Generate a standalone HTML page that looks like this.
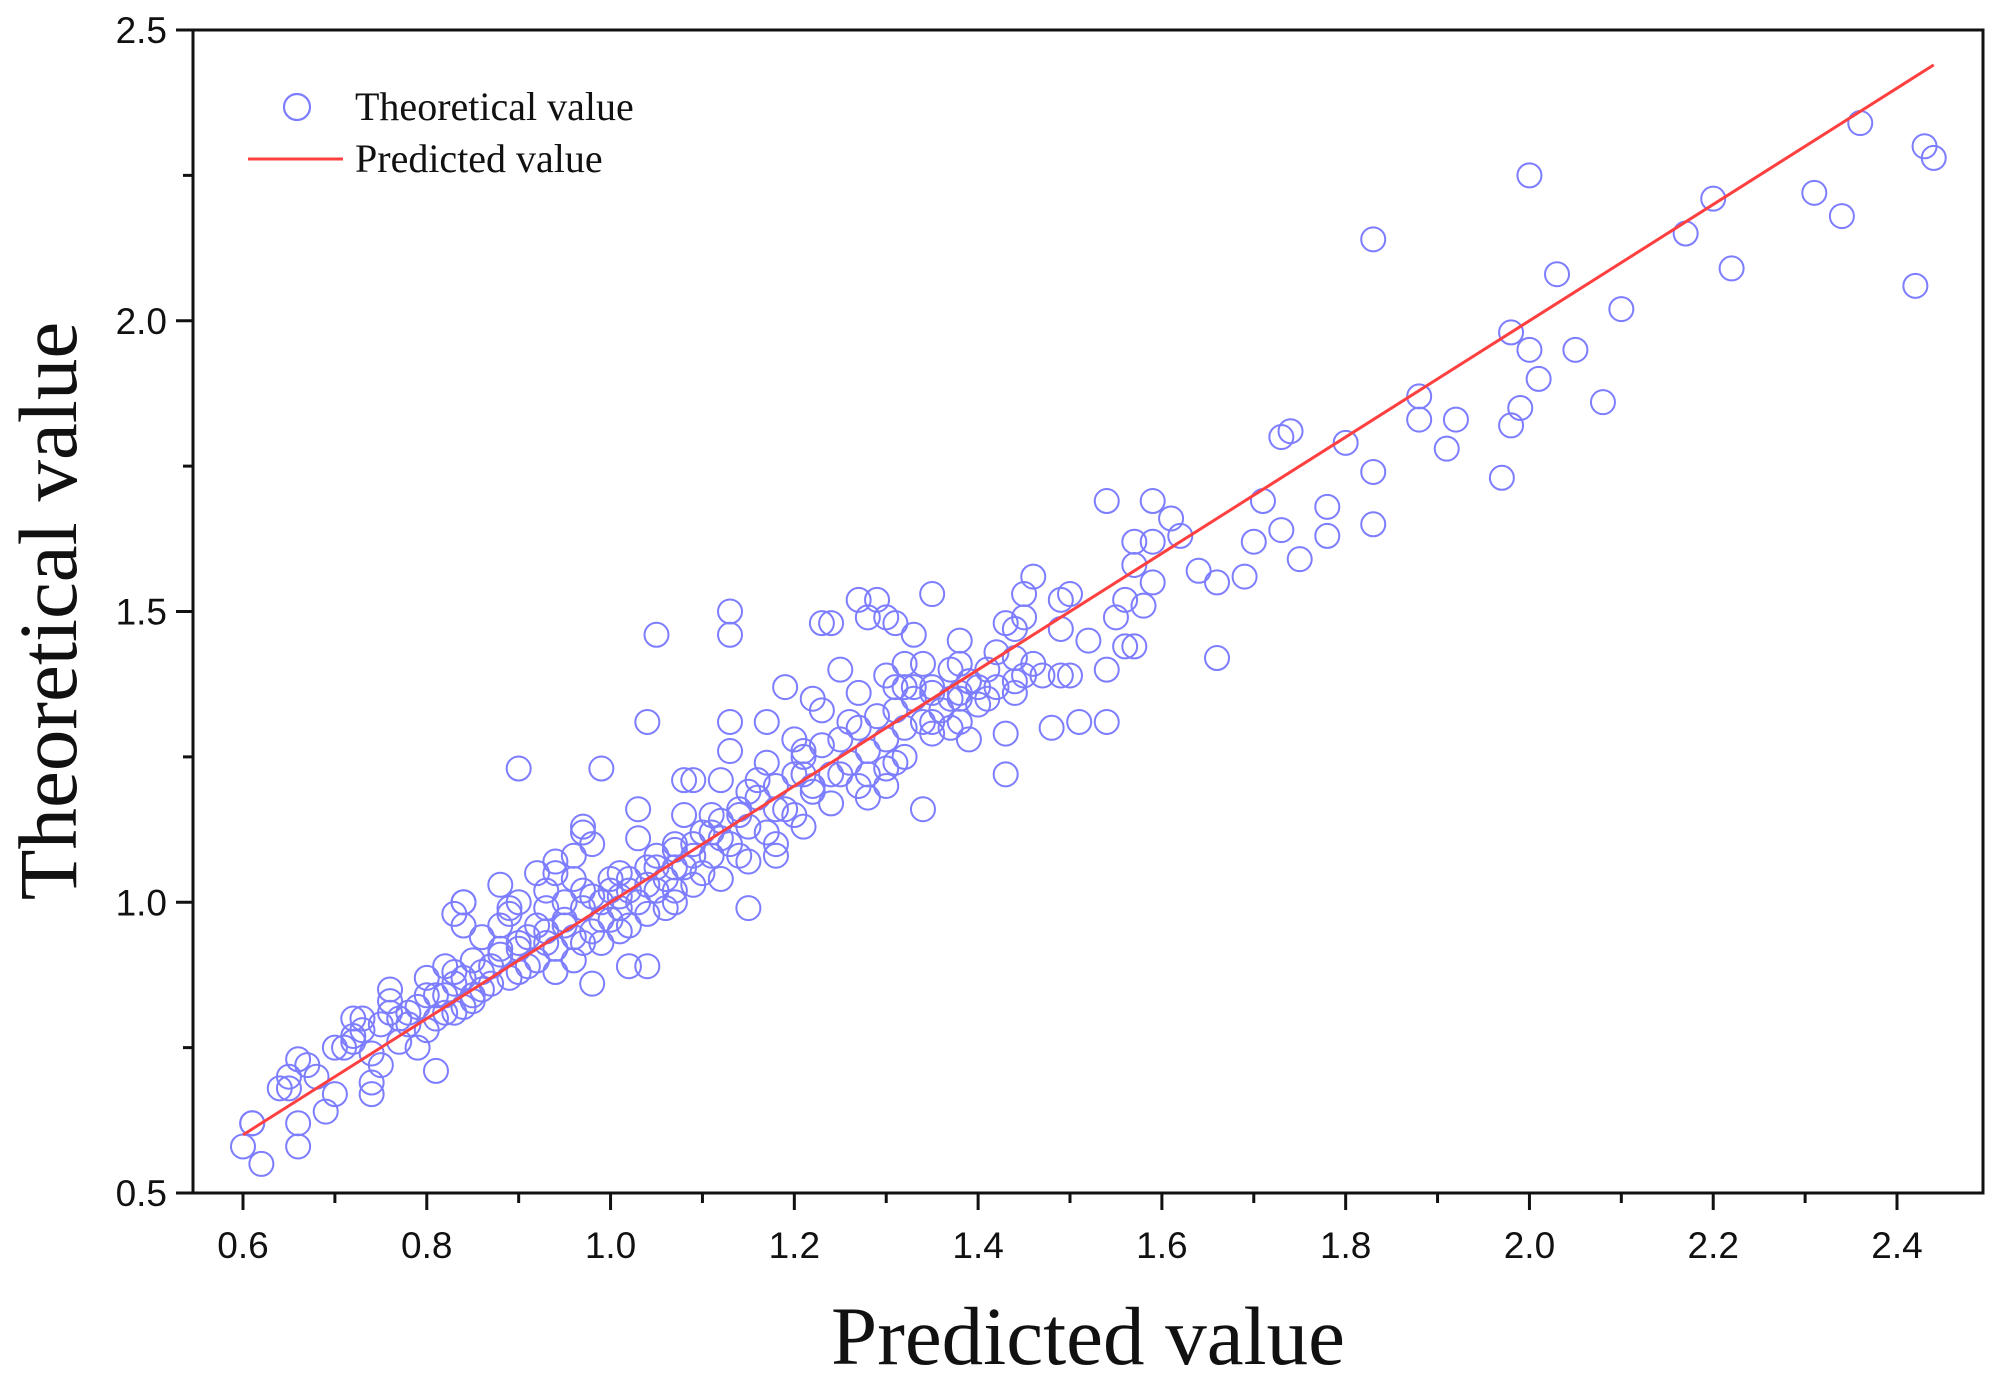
<!DOCTYPE html>
<html><head><meta charset="utf-8"><style>
html,body{margin:0;padding:0;background:#fff;}
svg{display:block;}
</style></head><body>
<svg id="chart" width="1996" height="1383" viewBox="0 0 1996 1383" xmlns="http://www.w3.org/2000/svg">
<g id="marks"></g>
<g id="axes"></g>
<g>
<circle cx="297" cy="107" r="13" fill="none" stroke="#7d7dff" stroke-width="2.2"/>
<text x="355" y="120" font-family="Liberation Serif, serif" font-size="40" fill="#111">Theoretical value</text>
<line x1="248" y1="159" x2="343" y2="159" stroke="#ff4040" stroke-width="3"/>
<text x="355" y="172" font-family="Liberation Serif, serif" font-size="40" fill="#111">Predicted value</text>
</g>
<text x="1088" y="1364" text-anchor="middle" font-family="Liberation Serif, serif" font-size="83" fill="#111">Predicted value</text>
<text transform="translate(76,611) rotate(-90)" text-anchor="middle" font-family="Liberation Serif, serif" font-size="83" fill="#111">Theoretical value</text>
</svg>
<script>
const xTicks=[0.6,0.8,1.0,1.2,1.4,1.6,1.8,2.0,2.2,2.4];
const xTickLabels=["0.6","0.8","1.0","1.2","1.4","1.6","1.8","2.0","2.2","2.4"];
const yTicks=[0.5,1.0,1.5,2.0,2.5];
const yTickLabels=["0.5","1.0","1.5","2.0","2.5"];
const fitLine=[[0.6,0.6],[2.44,2.44]];
const scatterData=[
[2.42,2.06],[2.43,2.30],[2.44,2.28],[2.36,2.34],[2.34,2.18],[2.31,2.22],[2.22,2.09],[2.20,2.21],[2.17,2.15],[2.10,2.02],
[2.05,1.95],[2.08,1.86],[2.03,2.08],[2.01,1.90],[2.00,1.95],[2.00,2.25],[1.98,1.98],[1.99,1.85],[1.98,1.82],[1.97,1.73],
[1.92,1.83],[1.91,1.78],[1.88,1.87],[1.88,1.83],[1.83,2.14],[1.83,1.74],[1.83,1.65],[1.80,1.79],[1.78,1.68],[1.78,1.63],
[1.74,1.81],[1.73,1.80],[1.73,1.64],[1.71,1.69],[1.70,1.62],[1.69,1.56],[1.75,1.59],[1.66,1.55],[1.66,1.42],[1.64,1.57],
[1.62,1.63],[1.61,1.66],[1.59,1.69],[1.59,1.62],[1.59,1.55],[1.58,1.51],[1.57,1.62],[1.57,1.58],[1.57,1.44],[1.56,1.44],
[1.56,1.52],[1.55,1.49],[1.54,1.69],[1.54,1.40],[1.54,1.31],[1.52,1.45],[1.51,1.31],[1.50,1.39],[1.50,1.53],[1.49,1.52],
[1.49,1.47],[1.48,1.30],[1.49,1.39],[1.47,1.39],[1.46,1.56],[1.45,1.53],[1.45,1.49],[1.44,1.47],[1.44,1.42],[1.44,1.36],
[1.45,1.39],[1.43,1.22],[1.43,1.48],[1.43,1.29],[1.42,1.43],[1.40,1.37],[1.39,1.38],[1.39,1.28],[1.38,1.45],[1.38,1.41],
[1.38,1.35],[1.37,1.35],[1.37,1.30],[1.35,1.53],[1.35,1.37],[1.35,1.31],[1.34,1.41],[1.33,1.37],[1.34,1.16],[1.33,1.46],
[1.32,1.37],[1.32,1.41],[1.31,1.48],[1.31,1.37],[1.31,1.24],[1.30,1.39],[1.30,1.20],[1.30,1.49],[1.29,1.52],[1.28,1.49],
[1.28,1.22],[1.27,1.52],[1.27,1.36],[1.28,1.18],[1.26,1.31],[1.25,1.22],[1.25,1.40],[1.24,1.48],[1.23,1.33],[1.23,1.48],
[1.22,1.19],[1.22,1.35],[1.21,1.26],[1.21,1.22],[1.20,1.28],[1.19,1.37],[1.18,1.16],[1.17,1.31],[1.17,1.24],[1.18,1.08],
[1.16,1.21],[1.15,1.19],[1.15,0.99],[1.14,1.15],[1.13,1.31],[1.13,1.26],[1.13,1.50],[1.13,1.46],[1.12,1.11],[1.11,1.15],
[1.12,1.21],[1.11,1.12],[1.09,1.08],[1.09,1.21],[1.08,1.15],[1.08,1.21],[1.07,1.06],[1.07,1.10],[1.06,0.99],[1.05,1.46],
[1.04,1.31],[1.05,1.06],[1.04,1.03],[1.03,1.16],[1.03,1.11],[1.02,1.02],[1.02,0.96],[1.01,1.05],[1.04,0.89],[1.02,0.89],
[1.01,1.01],[1.00,1.04],[0.99,1.23],[0.99,0.97],[0.98,0.86],[0.98,1.10],[0.97,1.13],[0.97,1.02],[0.97,0.93],[0.96,1.04],
[0.95,0.97],[0.94,1.05],[0.93,1.02],[0.93,0.93],[0.92,0.96],[0.90,1.23],[0.91,0.89],[0.90,0.92],[0.89,0.99],[0.89,0.98],
[0.88,1.03],[0.88,0.92],[0.87,0.89],[0.86,0.94],[0.85,0.84],[0.85,0.90],[0.84,0.96],[0.84,1.00],[0.84,0.82],[0.83,0.86],
[0.82,0.81],[0.82,0.89],[0.81,0.71],[0.81,0.84],[0.80,0.87],[0.79,0.75],[0.78,0.81],[0.77,0.80],[0.76,0.85],[0.76,0.83],
[0.75,0.72],[0.74,0.74],[0.74,0.69],[0.74,0.67],[0.73,0.80],[0.72,0.77],[0.72,0.76],[0.71,0.75],[0.70,0.75],[0.70,0.67],
[0.69,0.64],[0.68,0.70],[0.67,0.72],[0.66,0.62],[0.66,0.58],[0.66,0.73],[0.65,0.68],[0.65,0.70],[0.64,0.68],[0.62,0.55],
[0.61,0.62],[0.60,0.58],[0.61,0.62],
[0.78,0.79],[0.79,0.82],[0.80,0.78],[0.81,0.80],[0.82,0.84],[0.83,0.81],[0.84,0.87],[0.85,0.83],[0.86,0.88],[0.86,0.85],
[0.87,0.86],[0.88,0.91],[0.89,0.87],[0.90,0.93],[0.90,0.88],[0.91,0.94],[0.92,0.90],[0.93,0.95],[0.93,0.99],[0.94,0.92],
[0.95,0.96],[0.95,1.00],[0.96,0.94],[0.97,0.99],[0.98,0.95],[0.98,1.01],[0.99,1.00],[1.00,0.97],[1.00,1.02],[1.01,0.99],
[1.02,1.04],[1.03,1.00],[1.04,1.06],[1.05,1.02],[1.05,1.08],[1.06,1.04],[1.07,1.09],[1.07,1.02],[1.08,1.06],[1.09,1.10],
[1.10,1.05],[1.10,1.12],[1.11,1.08],[1.12,1.14],[1.13,1.10],[1.14,1.16],[1.14,1.08],[1.15,1.13],[1.16,1.18],[1.17,1.12],
[1.18,1.20],[1.19,1.16],[1.20,1.22],[1.20,1.15],[1.21,1.25],[1.22,1.20],[1.23,1.27],[1.24,1.22],[1.25,1.28],[1.26,1.24],
[1.27,1.30],[1.28,1.26],[1.29,1.32],[1.30,1.28],[1.31,1.33],[1.32,1.30],[1.33,1.35],[1.34,1.31],[1.35,1.36],[1.36,1.33],
[1.37,1.40],[1.38,1.36],[1.39,1.38],[1.40,1.34],[1.41,1.40],[1.42,1.37],[0.72,0.80],[0.73,0.78],[0.75,0.79],[0.76,0.81],
[0.77,0.76],[0.80,0.84],[0.83,0.88],[0.83,0.98],[0.84,1.00],[0.88,0.96],[0.90,1.00],[0.92,1.05],[0.94,1.07],[0.96,1.08],
[0.97,1.12],[0.94,0.88],[0.96,0.90],[0.99,0.93],[1.01,0.95],[1.04,0.98],[1.07,1.00],[1.09,1.03],[1.12,1.04],[1.15,1.07],
[1.18,1.10],[1.21,1.13],[1.24,1.17],[1.27,1.20],[1.30,1.23],[1.32,1.25],[1.35,1.29],[1.38,1.31],[1.41,1.35],[1.44,1.38],[1.46,1.41]
];
const NS="http://www.w3.org/2000/svg";
const L=193,R=1983,T=30,B=1193;
function xS(v){return 243+(v-0.6)*(1897-243)/1.8;}
function yS(v){return B-(v-0.5)*(B-T)/2.0;}
function mk(tag,attrs,parent){const e=document.createElementNS(NS,tag);for(const k in attrs)e.setAttribute(k,attrs[k]);parent.appendChild(e);return e;}
const marks=document.getElementById('marks');
const axes=document.getElementById('axes');
scatterData.forEach(function(p){
  const c=mk('circle',{cx:xS(p[0]),cy:yS(p[1]),r:12,fill:'none',stroke:'#7d7dff','stroke-width':2},marks);
  
  
});
const fl=mk('line',{x1:xS(fitLine[0][0]),y1:yS(fitLine[0][1]),x2:xS(fitLine[1][0]),y2:yS(fitLine[1][1]),stroke:'#ff4040','stroke-width':3},marks);


const frame=mk('rect',{x:L,y:T,width:R-L,height:B-T,fill:'none',stroke:'#111','stroke-width':3},axes);


xTicks.forEach(function(v,i){
  const t=mk('line',{x1:xS(v),y1:B,x2:xS(v),y2:B+17,stroke:'#111','stroke-width':3},axes);
  
  
  if(i<xTicks.length-1){
    const m=mk('line',{x1:xS(v+0.1),y1:B,x2:xS(v+0.1),y2:B+10,stroke:'#111','stroke-width':3},axes);
    
    
  }
  const lb=mk('text',{x:xS(v),y:B+65,'text-anchor':'middle','font-family':'Liberation Sans, sans-serif','font-size':37,fill:'#111'},axes);
  lb.textContent=xTickLabels[i];
  
  
});
yTicks.forEach(function(v,i){
  const t=mk('line',{x1:L-17,y1:yS(v),x2:L,y2:yS(v),stroke:'#111','stroke-width':3},axes);
  
  
  if(i<yTicks.length-1){
    const m=mk('line',{x1:L-10,y1:yS(v+0.25),x2:L,y2:yS(v+0.25),stroke:'#111','stroke-width':3},axes);
    
    
  }
  const lb=mk('text',{x:L-26,y:yS(v)+13,'text-anchor':'end','font-family':'Liberation Sans, sans-serif','font-size':37,fill:'#111'},axes);
  lb.textContent=yTickLabels[i];
  
  
});
</script>
</body></html>
